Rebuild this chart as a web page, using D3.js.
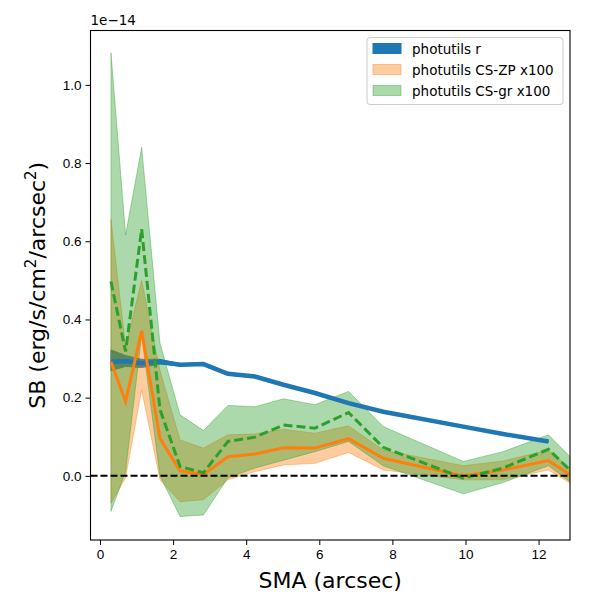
<!DOCTYPE html>
<html>
<head>
<meta charset="utf-8">
<script src="https://cdn.jsdelivr.net/npm/d3@7"></script>
<style>
  body { margin: 0; background: #fff; }
  svg { font-family: "DejaVu Sans", sans-serif; }
</style>
</head>
<body>
<svg id="chart" width="600" height="600"></svg>
<script>
// values in units of 1e-14 erg/s/cm^2/arcsec^2
var sma = [0.30, 0.70, 1.14, 1.64, 2.19, 2.83, 3.50, 4.24, 5.02, 5.88, 6.80, 7.75, 9.94, 11.03, 12.27, 13.50]

var rMean = [0.292, 0.294, 0.288, 0.292, 0.284, 0.286, 0.261, 0.254, 0.233, 0.212, 0.186, 0.164, 0.126, 0.107, 0.088]
var rLow  = [0.269, 0.280, 0.277, 0.286, 0.281, 0.283, 0.258, 0.251, 0.231, 0.210, 0.184, 0.162, 0.124, 0.105, 0.086]
var rHigh = [0.322, 0.308, 0.298, 0.298, 0.287, 0.289, 0.264, 0.257, 0.235, 0.214, 0.188, 0.166, 0.128, 0.109, 0.090]

var zpMean = [0.292, 0.190, 0.371, 0.096, 0.013, 0.003, 0.049, 0.056, 0.072, 0.071, 0.095, 0.045, 0.000, 0.015, 0.039, -0.036]
var zpLow  = [-0.070, -0.005, 0.220, -0.010, -0.066, -0.061, -0.010, 0.011, 0.028, 0.032, 0.060, 0.015, -0.010, -0.010, 0.015, -0.054]
var zpHigh = [0.656, 0.330, 0.500, 0.270, 0.092, 0.071, 0.105, 0.107, 0.119, 0.109, 0.128, 0.066, 0.026, 0.038, 0.066, -0.030]

var grMean = [0.497, 0.318, 0.631, 0.170, 0.024, 0.008, 0.088, 0.099, 0.130, 0.122, 0.162, 0.073, -0.006, 0.020, 0.068, -0.043]
var grLow  = [-0.091, 0.011, 0.360, 0.000, -0.104, -0.100, -0.005, 0.020, 0.040, 0.062, 0.088, 0.026, -0.046, -0.017, 0.026, -0.059]
var grHigh = [1.082, 0.616, 0.840, 0.340, 0.156, 0.116, 0.180, 0.177, 0.197, 0.182, 0.216, 0.126, 0.037, 0.062, 0.105, -0.012]

var xTicks = [0, 2, 4, 6, 8, 10, 12]
var yTicks = [0.0, 0.2, 0.4, 0.6, 0.8, 1.0]
var legendLabels = ["photutils r", "photutils CS-ZP x100", "photutils CS-gr x100"]

var margin = {left: 90.5, right: 30, top: 30.5, bottom: 60}
var W = 600, H = 600
var svg = d3.select("#chart")

var x = d3.scaleLinear().domain([-0.26, 12.86]).range([margin.left, W - margin.right])
var y = d3.scaleLinear().domain([-0.164, 1.139]).range([H - margin.bottom, margin.top])

svg.append("defs").append("clipPath").attr("id", "clip")
    .append("rect")
    .attr("x", margin.left).attr("y", margin.top)
    .attr("width", W - margin.right - margin.left)
    .attr("height", H - margin.bottom - margin.top)

var plot = svg.append("g").attr("clip-path", "url(#clip)")

function rows(mean, lo, hi) {
    return mean.map((d, i) => ({x: sma[i], m: d, lo: lo[i], hi: hi[i]}))
}
var rData = rows(rMean, rLow, rHigh)
var zpData = rows(zpMean, zpLow, zpHigh)
var grData = rows(grMean, grLow, grHigh)

var area = d3.area().x(d => x(d.x)).y0(d => y(d.lo)).y1(d => y(d.hi))
var line = d3.line().x(d => x(d.x)).y(d => y(d.m))

// fills first (like matplotlib collections), then lines
plot.append("path").datum(rData).attr("d", area)
    .attr("fill", "#1f77b4").attr("stroke", "#1f77b4").attr("stroke-width", 1)
plot.append("path").datum(zpData).attr("d", area)
    .attr("fill", "#ff7f0e").attr("fill-opacity", 0.4)
    .attr("stroke", "#ff7f0e").attr("stroke-opacity", 0.4).attr("stroke-width", 1)
plot.append("path").datum(grData).attr("d", area)
    .attr("fill", "#2ca02c").attr("fill-opacity", 0.4)
    .attr("stroke", "#2ca02c").attr("stroke-opacity", 0.4).attr("stroke-width", 1)

plot.append("path").datum(rData).attr("d", line)
    .attr("fill", "none").attr("stroke", "#1f77b4").attr("stroke-width", 4.5)
plot.append("path").datum(zpData).attr("d", line)
    .attr("fill", "none").attr("stroke", "#ff7f0e").attr("stroke-width", 3)
plot.append("path").datum(grData).attr("d", line)
    .attr("fill", "none").attr("stroke", "#2ca02c").attr("stroke-width", 3)
    .attr("stroke-dasharray", "9,4")

plot.append("line")
    .attr("x1", margin.left).attr("x2", W - margin.right)
    .attr("y1", y(0)).attr("y2", y(0))
    .attr("stroke", "black").attr("stroke-width", 2).attr("stroke-dasharray", "7,3")

// axes
var xAxis = d3.axisBottom(x).tickValues(xTicks).tickFormat(d3.format("d")).tickSize(5).tickPadding(4)
var yAxis = d3.axisLeft(y).tickValues(yTicks).tickFormat(d3.format(".1f")).tickSize(5).tickPadding(4)

var gx = svg.append("g").attr("transform", "translate(0," + (H - margin.bottom) + ")").call(xAxis)
var gy = svg.append("g").attr("transform", "translate(" + margin.left + ",0)").call(yAxis)
;[gx, gy].forEach(g => {
    g.select(".domain").remove()
    g.selectAll("text").attr("font-size", 13.5).attr("fill", "#000")
    g.selectAll("line").attr("stroke", "#000").attr("stroke-width", 1)
})

svg.append("rect")
    .attr("x", margin.left).attr("y", margin.top)
    .attr("width", W - margin.right - margin.left)
    .attr("height", H - margin.bottom - margin.top)
    .attr("fill", "none").attr("stroke", "#000").attr("stroke-width", 1.1)

svg.append("text").attr("x", margin.left).attr("y", 25)
    .attr("font-size", 13.5).text("1e\u221214")

svg.append("text")
    .attr("x", (margin.left + W - margin.right) / 2).attr("y", 588)
    .attr("text-anchor", "middle").attr("font-size", 22).text("SMA (arcsec)")

var yl = svg.append("text")
    .attr("transform", "translate(45," + ((margin.top + H - margin.bottom) / 2) + ") rotate(-90)")
    .attr("text-anchor", "middle").attr("font-size", 22)
yl.append("tspan").text("SB (erg/s/cm")
yl.append("tspan").attr("font-size", 15).attr("dy", -9).text("2")
yl.append("tspan").attr("dy", 9).text("/arcsec")
yl.append("tspan").attr("font-size", 15).attr("dy", -9).text("2")
yl.append("tspan").attr("dy", 9).text(")")

// legend
var lg = svg.append("g")
lg.append("rect").attr("x", 367).attr("y", 37.5).attr("width", 196).attr("height", 67)
    .attr("rx", 3).attr("fill", "#fff").attr("fill-opacity", 0.8)
    .attr("stroke", "#ccc").attr("stroke-width", 1)
var legColors = [["#1f77b4", 1], ["#ff7f0e", 0.4], ["#2ca02c", 0.4]]
legendLabels.forEach((t, i) => {
    var yy = 48.5 + i * 21
    lg.append("rect").attr("x", 373).attr("y", yy - 5).attr("width", 28).attr("height", 10)
        .attr("fill", legColors[i][0]).attr("fill-opacity", legColors[i][1])
        .attr("stroke", legColors[i][0]).attr("stroke-opacity", legColors[i][1])
    lg.append("text").attr("x", 412).attr("y", yy + 5).attr("font-size", 13.5).text(t)
})
</script>
</body>
</html>
